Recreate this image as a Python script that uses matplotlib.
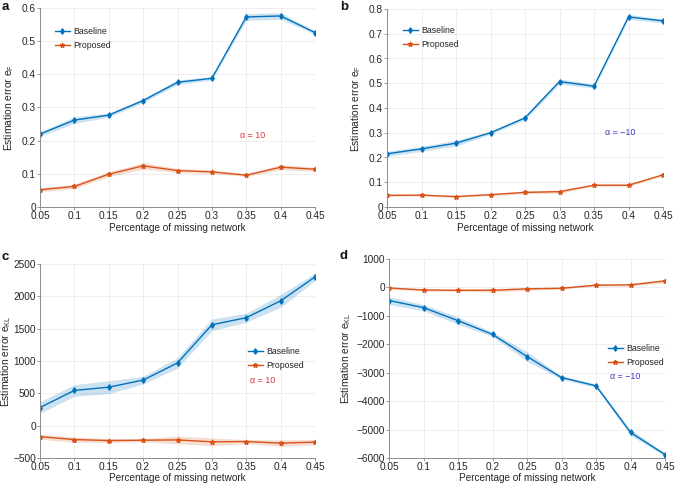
import matplotlib
matplotlib.use("Agg")
import matplotlib.pyplot as plt
import numpy as np

plt.rcParams['font.family'] = ['Liberation Sans', 'DejaVu Sans']
plt.rcParams['mathtext.fontset'] = 'custom'
plt.rcParams['mathtext.rm'] = 'Liberation Sans'

x = [0.05, 0.1, 0.15, 0.2, 0.25, 0.3, 0.35, 0.4, 0.45]
xticks = [0.05, 0.1, 0.15, 0.2, 0.25, 0.3, 0.35, 0.4, 0.45]
xticklabels = ['0.05', '0.1', '0.15', '0.2', '0.25', '0.3', '0.35', '0.4', '0.45']

a_base = [0.220, 0.262, 0.277, 0.321, 0.376, 0.388, 0.573, 0.576, 0.526]
a_base_sd = [0.007, 0.010, 0.006, 0.006, 0.007, 0.005, 0.010, 0.010, 0.005]
a_prop = [0.052, 0.062, 0.099, 0.124, 0.110, 0.106, 0.096, 0.120, 0.114]
a_prop_sd = [0.006, 0.007, 0.007, 0.010, 0.006, 0.005, 0.004, 0.008, 0.006]

b_base = [0.215, 0.235, 0.258, 0.300, 0.360, 0.507, 0.488, 0.768, 0.752]
b_base_sd = [0.010, 0.010, 0.012, 0.006, 0.008, 0.010, 0.008, 0.010, 0.008]
b_prop = [0.047, 0.048, 0.042, 0.050, 0.059, 0.062, 0.088, 0.088, 0.130]
b_prop_sd = [0.004, 0.004, 0.004, 0.004, 0.006, 0.006, 0.004, 0.005, 0.004]

c_base = [280, 545, 595, 705, 970, 1560, 1670, 1930, 2300]
c_base_sd = [90, 90, 100, 60, 80, 90, 70, 100, 60]
c_prop = [-170, -215, -230, -225, -220, -250, -245, -270, -255]
c_prop_sd = [40, 40, 30, 25, 60, 60, 30, 50, 40]

d_base = [-460, -710, -1170, -1650, -2430, -3170, -3460, -5100, -5880]
d_base_sd = [140, 110, 130, 80, 170, 60, 60, 100, 60]
d_prop = [-20, -90, -100, -100, -50, -30, 80, 90, 230]
d_prop_sd = [40, 40, 40, 60, 50, 30, 40, 40, 60]

panels = [
    dict(lab='a', base=a_base, bsd=a_base_sd, prop=a_prop, psd=a_prop_sd,
         ylim=(0, 0.6), yticks=[0, 0.1, 0.2, 0.3, 0.4, 0.5, 0.6],
         ylabel='Estimation error e$_\\mathregular{F}$',
         alpha_txt='\u03b1 = 10', alpha_col='#e0303a', apos=(0.36, 0.217),
         rect=(40, 8, 315, 207), legxy=(55, 27), ylab_x=16, xlab_y=223, labxy=(2, 7)),
    dict(lab='b', base=b_base, bsd=b_base_sd, prop=b_prop, psd=b_prop_sd,
         ylim=(0, 0.8), yticks=[0, 0.1, 0.2, 0.3, 0.4, 0.5, 0.6, 0.7, 0.8],
         ylabel='Estimation error e$_\\mathregular{F}$',
         alpha_txt='\u03b1 = \u221210', alpha_col='#3a33c8', apos=(0.388, 0.303),
         rect=(387, 9, 663, 207), legxy=(403, 26), ylab_x=363, xlab_y=223, labxy=(340, 7)),
    dict(lab='c', base=c_base, bsd=c_base_sd, prop=c_prop, psd=c_prop_sd,
         ylim=(-500, 2500), yticks=[-500, 0, 500, 1000, 1500, 2000, 2500],
         ylabel='Estimation error e$_\\mathregular{KL}$',
         alpha_txt='\u03b1 = 10', alpha_col='#e0303a', apos=(0.374, 706),
         rect=(40, 264, 315, 458), legxy=(248, 347), ylab_x=13, xlab_y=473, labxy=(1, 257)),
    dict(lab='d', base=d_base, bsd=d_base_sd, prop=d_prop, psd=d_prop_sd,
         ylim=(-6000, 1000), yticks=[-6000, -5000, -4000, -3000, -2000, -1000, 0, 1000],
         ylabel='Estimation error e$_\\mathregular{KL}$',
         alpha_txt='\u03b1 = \u221210', alpha_col='#3a33c8', apos=(0.392, -3150),
         rect=(389, 259, 665, 458), legxy=(608, 344), ylab_x=353, xlab_y=473, labxy=(340, 256)),
]

W, H = 675, 486
fig = plt.figure(figsize=(W / 100, H / 100), dpi=100)
fig.patch.set_facecolor('white')

blue = '#0072BD'
orange = '#D95319'
tcol = '#262626'

for p in panels:
    l, t, r, b = p['rect']
    ax = fig.add_axes([l / W, 1 - b / H, (r - l) / W, (b - t) / H])
    xs = np.array(x)
    base = np.array(p['base']); bsd = np.array(p['bsd'])
    prop = np.array(p['prop']); psd = np.array(p['psd'])
    ax.fill_between(xs, base - bsd, base + bsd, color=blue, alpha=0.2, lw=0)
    ax.fill_between(xs, prop - psd, prop + psd, color=orange, alpha=0.2, lw=0)
    ax.plot(xs, base, color=blue, lw=1.0, marker='d', ms=2.8, label='Baseline')
    ax.plot(xs, prop, color=orange, lw=1.0, marker='*', ms=3.5, label='Proposed')
    ax.set_xlim(0.05, 0.45)
    ax.set_ylim(*p['ylim'])
    ax.set_xticks(xticks)
    ax.set_xticklabels(xticklabels)
    ax.set_yticks(p['yticks'])
    ax.set_yticklabels([('%g' % v).replace('-', '\u2212') for v in p['yticks']])
    ax.grid(True, color='#ebebeb', lw=0.6)
    ax.set_axisbelow(True)
    for s in ['top', 'right']:
        ax.spines[s].set_visible(False)
    for s in ['left', 'bottom']:
        ax.spines[s].set_color('#8c8c8c')
        ax.spines[s].set_linewidth(0.7)
    ax.tick_params(direction='out', length=2, width=0.6, labelsize=7.3, pad=1,
                   colors='#8c8c8c', labelcolor=tcol)
    ax.set_xlabel('Percentage of missing network', fontsize=7.2, color=tcol)
    ax.xaxis.set_label_coords(0.5, (b - p['xlab_y']) / (b - t))
    ax.set_ylabel(p['ylabel'], fontsize=7.4, color=tcol)
    ax.yaxis.set_label_coords((p['ylab_x'] - l) / (r - l), 0.5)
    lx, ly = p['legxy']
    leg = ax.legend(loc='upper left', bbox_to_anchor=(lx / W, 1 - ly / H),
                    bbox_transform=fig.transFigure, frameon=False, fontsize=6.3,
                    handlelength=1.7, handletextpad=0.4, labelspacing=0.55,
                    borderpad=0, borderaxespad=0)
    for txt in leg.get_texts():
        txt.set_color(tcol)
    ax.text(p['apos'][0], p['apos'][1], p['alpha_txt'], color=p['alpha_col'],
            fontsize=6.4, ha='center', va='center')
    fx, fy = p['labxy']
    fig.text(fx / W, 1 - fy / H, p['lab'], fontsize=9.5, fontweight='bold',
             ha='left', va='center', color='#111111')

fig.savefig('out.png', dpi=100, facecolor='white')
